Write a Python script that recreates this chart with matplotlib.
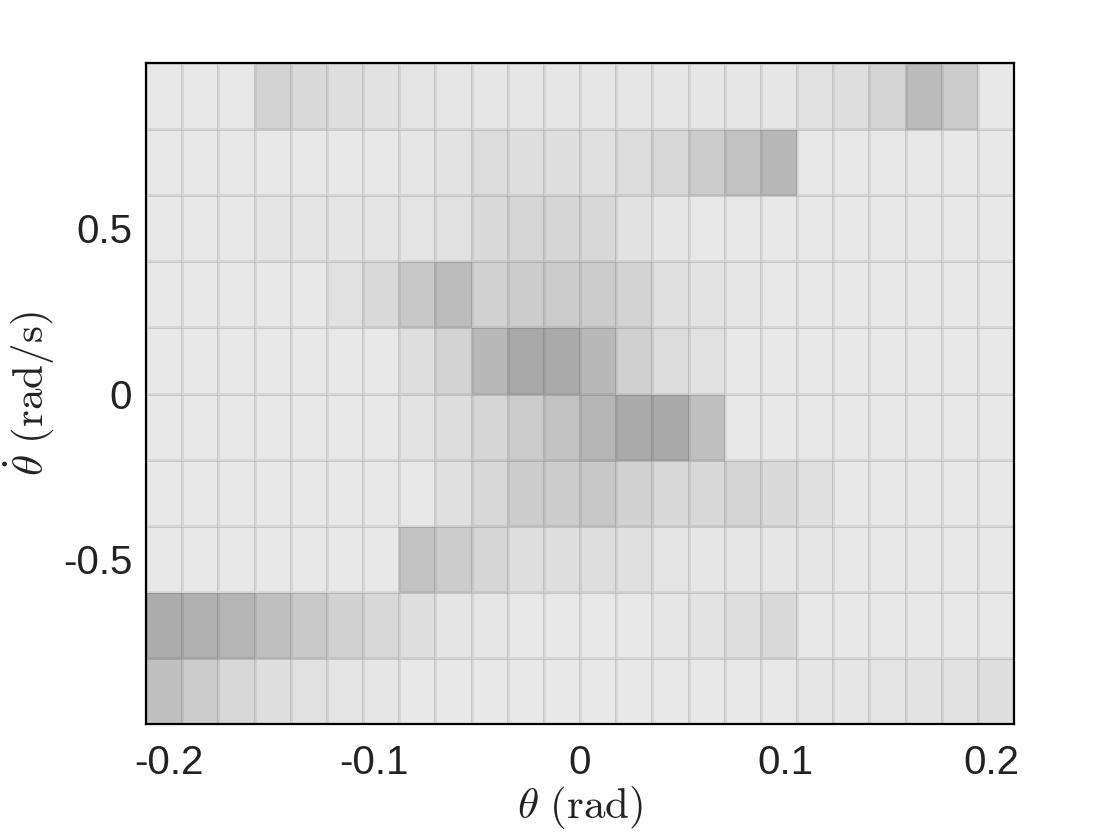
import numpy as np
import matplotlib
matplotlib.use("Agg")
import matplotlib.pyplot as plt
from matplotlib.colors import LinearSegmentedColormap

# bin edges: theta in about +-0.211 rad, 24 bins; theta_dot in [-1, 1], 10 bins
theta_edges = np.linspace(-0.211, 0.211, 25)
thetadot_edges = np.linspace(-1.0, 1.0, 11)

# cell intensities (darkness), rows listed from top (theta_dot 0.8..1.0) to bottom
row_p09 = [0, 0, 0, 21, 14, 9, 6, 4, 2, 2, 2, 2, 2, 2, 2, 2, 2, 2, 6, 10, 20, 45, 28, 0]
row_p07 = [0, 0, 0, 0, 0, 0, 0, 2, 5, 12, 9, 9, 8, 12, 16, 28, 38, 48, 0, 0, 0, 0, 0, 0]
row_p05 = [0, 0, 0, 3, 3, 3, 3, 4, 7, 14, 18, 18, 16, 6, 2, 0, 0, 0, 0, 0, 0, 0, 0, 0]
row_p03 = [0, 0, 0, 0, 0, 7, 14, 32, 44, 22, 27, 28, 28, 21, 8, 5, 2, 0, 0, 0, 0, 0, 0, 0]
row_p01 = [0, 0, 0, 0, 0, 0, 0, 9, 21, 48, 64, 62, 48, 24, 12, 7, 0, 0, 0, 0, 0, 0, 0, 0]
row_m01 = [0, 0, 0, 0, 0, 0, 0, 5, 11, 18, 28, 38, 51, 62, 63, 40, 0, 0, 0, 0, 0, 0, 0, 0]
row_m03 = [0, 0, 0, 0, 0, 0, 0, 0, 8, 16, 27, 27, 32, 22, 16, 16, 20, 14, 8, 0, 0, 0, 0, 0]
row_m05 = [0, 0, 0, 0, 0, 0, 0, 37, 28, 18, 9, 9, 10, 8, 4, 2, 2, 2, 2, 0, 0, 0, 0, 0]
row_m07 = [60, 56, 51, 40, 31, 22, 16, 9, 3, 2, 0, 0, 0, 0, 2, 5, 9, 15, 0, 0, 0, 0, 0, 0]
row_m09 = [40, 27, 16, 9, 7, 4, 2, 0, 0, 0, 0, 0, 0, 0, 0, 0, 0, 0, 2, 2, 4, 5, 6, 9]

counts = np.array([row_m09, row_m07, row_m05, row_m03, row_m01,
                   row_p01, row_p03, row_p05, row_p07, row_p09], dtype=float)

xticks = [-0.2, -0.1, 0, 0.1, 0.2]
xticklabels = ["-0.2", "-0.1", "0", "0.1", "0.2"]
yticks = [-0.5, 0, 0.5]
yticklabels = ["-0.5", "0", "0.5"]

plt.rcParams["mathtext.fontset"] = "cm"
plt.rcParams["axes.unicode_minus"] = False
plt.rcParams["font.family"] = ["Liberation Sans", "DejaVu Sans"]

cmap = LinearSegmentedColormap.from_list("g", ["#e8e8e8", "#a8a8a8"])

fig = plt.figure(figsize=(11.2, 8.4), dpi=100)
ax = fig.add_axes([0.1304, 0.138, 0.775, 0.787])
ax.pcolormesh(theta_edges, thetadot_edges, counts, cmap=cmap, vmin=0, vmax=64,
              edgecolors=(0, 0, 0, 0.07), linewidth=0.8)
ax.set_xlim(theta_edges[0], theta_edges[-1])
ax.set_ylim(thetadot_edges[0], thetadot_edges[-1])
ax.set_xticks(xticks)
ax.set_xticklabels(xticklabels, fontsize=29, color="#222222")
ax.set_yticks(yticks)
ax.set_yticklabels(yticklabels, fontsize=29, color="#222222")
ax.tick_params(length=0)
ax.tick_params(axis="x", pad=14)
ax.tick_params(axis="y", pad=10)
for s in ax.spines.values():
    s.set_linewidth(1.6)
    s.set_color("black")
ax.set_xlabel(r"$\theta\ (\mathrm{rad})$", fontsize=31, labelpad=2, color="#222222")
ax.set_ylabel(r"$\dot{\theta}\ (\mathrm{rad/s})$", fontsize=31, labelpad=4, color="#222222")

fig.savefig("out.png", dpi=100)
